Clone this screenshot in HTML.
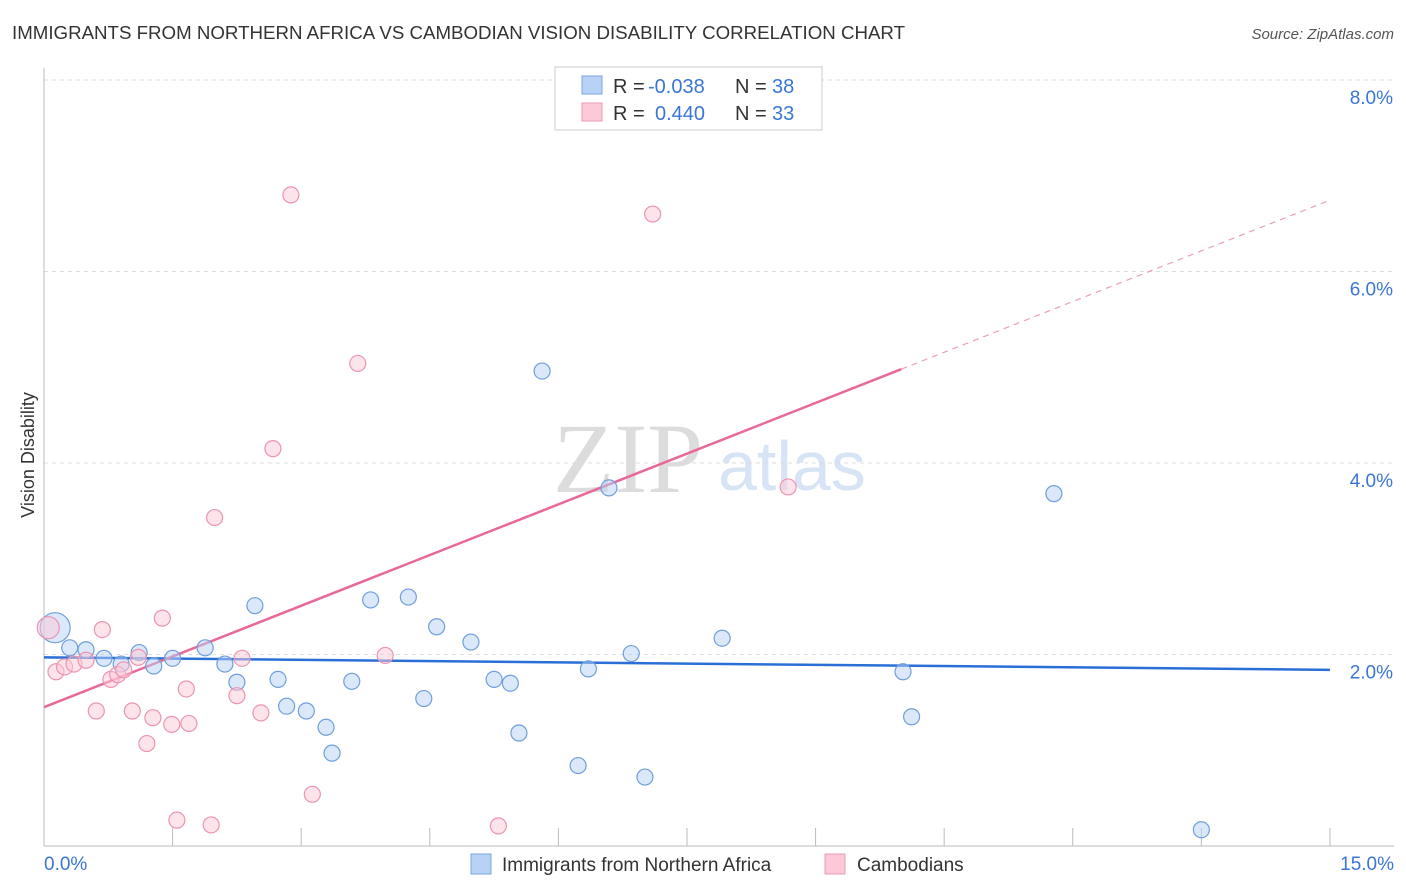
<!DOCTYPE html>
<html><head><meta charset="utf-8"><style>
body{margin:0;background:#fff;font-family:"Liberation Sans",sans-serif;}
#c{position:relative;width:1406px;height:892px;overflow:hidden}
</style></head><body>
<div id="c">
<svg id="s" width="1406" height="892" xmlns="http://www.w3.org/2000/svg">
<text x="12" y="39" font-size="18" fill="#333" textLength="893" lengthAdjust="spacingAndGlyphs">IMMIGRANTS FROM NORTHERN AFRICA VS CAMBODIAN VISION DISABILITY CORRELATION CHART</text>
<text x="1394" y="39" font-size="15" fill="#555" font-style="italic" text-anchor="end">Source: ZipAtlas.com</text>
<text x="34" y="455" font-size="18" fill="#333" text-anchor="middle" transform="rotate(-90 34 455)">Vision Disability</text>
<text x="553" y="492" font-size="100" fill="#dcdcdc" font-family="Liberation Serif">ZIP</text>
<text x="718" y="490" font-size="70" fill="#d6e4f5">atlas</text>
<g id="grid"></g><g id="axes"></g><g id="trend"></g><g id="pts"></g>
<g font-size="20" fill="#333">
<rect x="555" y="67" width="267" height="63" fill="#fff" stroke="#ccc"/>
<rect x="582" y="76" width="20" height="18" fill="#b8d2f5" stroke="#7aa6e0"/>
<rect x="582" y="103" width="20" height="18" fill="#fbc9d8" stroke="#ee9ab4"/>
<text x="613" y="93">R =</text>
<text x="648" y="93" fill="#3a76d6">-0.038</text>
<text x="735" y="93">N =</text>
<text x="772" y="93" fill="#3a76d6">38</text>
<text x="613" y="120">R =</text>
<text x="655" y="120" fill="#3a76d6">0.440</text>
<text x="735" y="120">N =</text>
<text x="772" y="120" fill="#3a76d6">33</text>
</g>
<g>
<rect x="471" y="854" width="20" height="20" fill="#b8d2f5" stroke="#7aa6e0"/>
<text x="502" y="871" font-size="19" fill="#333">Immigrants from Northern Africa</text>
<rect x="825" y="854" width="20" height="20" fill="#fbc9d8" stroke="#ee9ab4"/>
<text x="857" y="871" font-size="19" fill="#333">Cambodians</text>
</g>
</svg></div>
<script>
const yTicks=[2,4,6,8];
const xTickLabels=["0.0%","15.0%"];
const blueX=[.13,.30,.49,.70,.90,1.11,1.28,1.50,1.88,2.11,2.25,2.46,2.73,2.83,3.06,3.29,3.36,3.59,3.81,4.25,4.43,4.58,4.98,5.25,5.44,5.54,5.81,6.23,6.35,6.59,6.85,7.01,7.91,10.02,10.12,11.78,13.50];
const blueY=[2.28,2.07,2.05,1.96,1.90,2.02,1.88,1.96,2.07,1.90,1.71,2.51,1.74,1.46,1.41,1.24,0.97,1.72,2.57,2.60,1.54,2.29,2.13,1.74,1.70,1.18,4.96,0.84,1.85,3.74,2.01,0.72,2.17,1.82,1.35,3.68,0.17];
const pinkX=[.05,.14,.24,.35,.49,.61,.68,.78,.86,.93,1.03,1.10,1.20,1.27,1.38,1.49,1.55,1.66,1.69,1.95,1.99,2.25,2.31,2.53,2.67,2.88,3.13,3.66,3.98,5.30,7.10,8.68];
const pinkY=[2.28,1.82,1.87,1.90,1.94,1.41,2.26,1.74,1.79,1.84,1.41,1.97,1.07,1.34,2.38,1.27,0.27,1.64,1.28,0.22,3.43,1.57,1.96,1.39,4.15,6.80,0.54,5.04,1.99,0.21,6.60,3.75];
const blueTrend=[1.97,1.84];
const pinkTrend=[1.45,0.353];
const X=v=>44+v*85.73, Y=v=>846-v*95.75;
const NS="http://www.w3.org/2000/svg";
function mk(p,t,a){const e=document.createElementNS(NS,t);for(const k in a)e.setAttribute(k,a[k]);document.getElementById(p).appendChild(e);return e;}
yTicks.forEach(t=>{
 const l=mk('grid','line',{x1:44,x2:1394,y1:Y(t),y2:Y(t),stroke:'#ddd','stroke-dasharray':'4,4'});
 
 
 const tx=mk('grid','text',{x:1393,y:Y(t)+24,'font-size':19,fill:'#3a76d6','text-anchor':'end'});tx.textContent=t.toFixed(1)+'%';
 
 
});
const ax=mk('axes','line',{x1:44,x2:1394,y1:846,y2:846,stroke:'#bbb'});


const ay=mk('axes','line',{x1:44,x2:44,y1:68,y2:846,stroke:'#bbb'});


for(let i=1;i<=10;i++){const t=mk('axes','line',{x1:X(i*1.5),x2:X(i*1.5),y1:828,y2:846,stroke:'#bbb'});
 
 }
[[44,'start',0],[1394,'end',1]].forEach(([x,a,i])=>{const t=mk('axes','text',{x:x,y:870,'font-size':19,fill:'#3a76d6','text-anchor':a});t.textContent=xTickLabels[i];
 
 });
function pt(x,y,fill,stroke,r){const c=mk('pts','circle',{cx:X(x),cy:Y(y),r:r,fill:fill,stroke:stroke,'stroke-width':1.2,'fill-opacity':0.5});return c;}
blueX.forEach((x,i)=>{const c=pt(x,blueY[i],'#b8d2f5','#6f9fdc',i==0?15:8);
 
 });
pinkX.forEach((x,i)=>{const c=pt(x,pinkY[i],'#fbc9d8','#ec94b0',i==0?11:8);
 
 });
const bl=mk('trend','line',{x1:X(0),y1:Y(blueTrend[0]),x2:X(15),y2:Y(blueTrend[1]),stroke:'#2a6fd6','stroke-width':2.5});


const pe=10;
const pl=mk('trend','line',{x1:X(0),y1:Y(pinkTrend[0]),x2:X(pe),y2:Y(pinkTrend[0]+pinkTrend[1]*pe),stroke:'#e8689a','stroke-width':2.5});


const pd=mk('trend','line',{x1:X(pe),y1:Y(pinkTrend[0]+pinkTrend[1]*pe),x2:X(15),y2:Y(pinkTrend[0]+pinkTrend[1]*15),stroke:'#e8a0b8','stroke-width':1.2,'stroke-dasharray':'6,5'});


</script>
</body></html>
